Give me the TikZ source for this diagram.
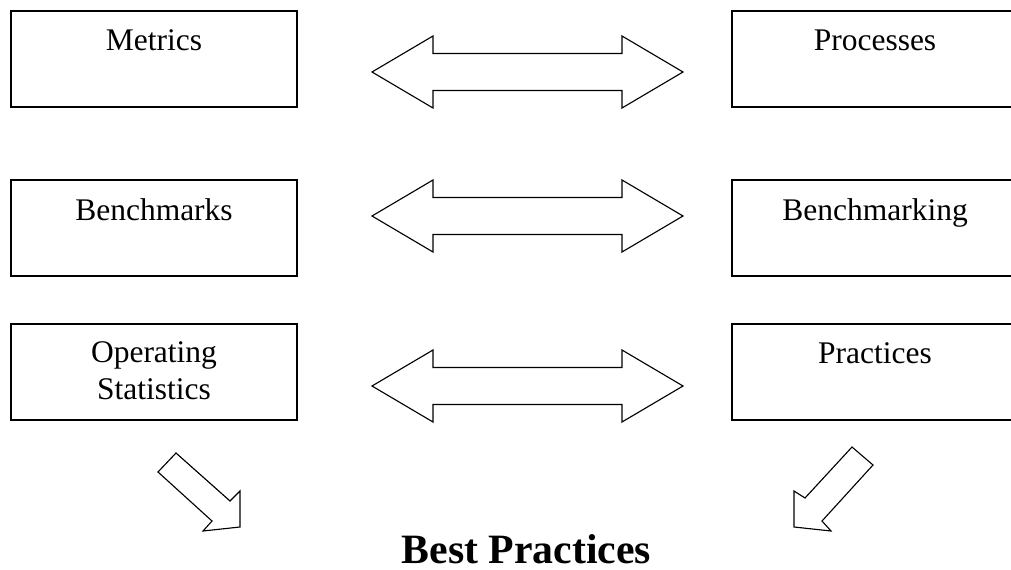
\documentclass[tikz,border=0pt]{standalone}
\usepackage{fontspec}
\setmainfont{Liberation Serif}
\usetikzlibrary{positioning}

\begin{document}
\begin{tikzpicture}[x=0.025cm,y=-0.025cm,
  box/.style={draw, line width=.9pt, minimum width=7.15cm, minimum height=2.4cm, inner sep=0pt},
  lbl/.style={anchor=north, align=center, inner sep=0pt, font=\fontsize{22.4}{26.3}\selectfont},
  blk/.style={draw, line width=.8pt, line join=miter},
  twoway/.pic={\draw[blk] (-155.5,0) -- (-94.5,-36) -- (-94.5,-18.5) -- (94.5,-18.5) -- (94.5,-36) -- (155.5,0)
     -- (94.5,36) -- (94.5,18.5) -- (-94.5,18.5) -- (-94.5,36) -- cycle;}]
\useasboundingbox (0,0) rectangle (1011,570);

% left column
\node[box] (metrics) at (154,59) {};
\node[box] (bench) at (154,228) {};
\node[box] (opstat) at (154,372) {};
\node[lbl, below=0.475cm of metrics.north] (metricsl) {Metrics};
\node[lbl, below=0.475cm of bench.north] (benchl) {Benchmarks};
\node[lbl, below=0.45cm of opstat.north] (opstatl) {Operating\\Statistics};

% right column
\node[box] (proc) at (875,59) {};
\node[box] (benching) at (875,228) {};
\node[box] (pract) at (875,372) {};
\node[lbl, below=0.475cm of proc.north] (procl) {Processes};
\node[lbl, below=0.475cm of benching.north] (benchingl) {Benchmarking};
\node[lbl, below=0.475cm of pract.north] (practl) {Practices};

% two-way block arrows
\pic at (527.5,72) {twoway};
\pic at (527.5,216) {twoway};
\pic at (527.5,386) {twoway};

% down arrows
\draw[blk] (176,453) -- (230,501) -- (240,491) -- (240,527) -- (203,531) -- (212,521) -- (158,472) -- cycle;
\draw[blk] (852,447) -- (805,498) -- (794,491) -- (794,527) -- (831,531) -- (822,521) -- (873,465) -- cycle;

\node[anchor=base, inner sep=0pt, font=\bfseries\fontsize{29.7}{34}\selectfont] (best) at (526.5,563) {Best Practices};
\end{tikzpicture}
\end{document}
